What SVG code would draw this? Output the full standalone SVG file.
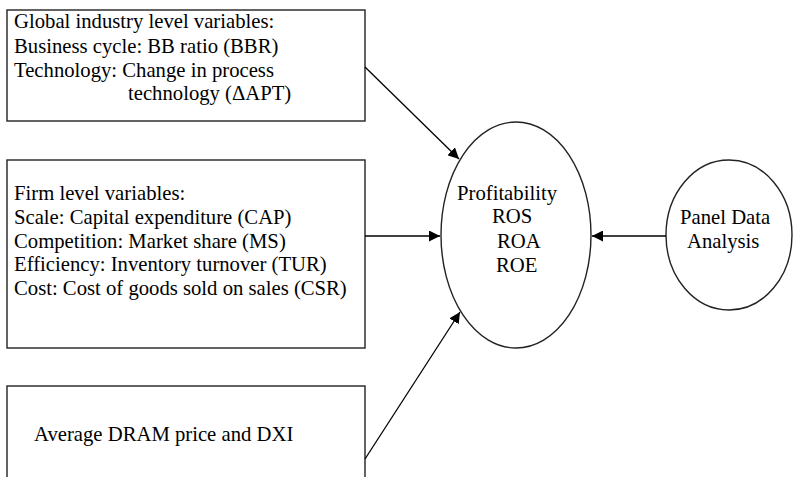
<svg xmlns="http://www.w3.org/2000/svg" width="793" height="477" viewBox="0 0 793 477">
<defs>
<style>
.box{fill:#fff;stroke:#222;stroke-width:1.4}
.t{font-family:"Liberation Serif","Times New Roman",serif;font-size:20.7px;fill:#000}
.c{stroke:#000;stroke-width:1.3;fill:none;marker-end:url(#ah)}
</style>
<marker id="ah" viewBox="0 0 10 10" refX="10" refY="5" markerWidth="11" markerHeight="11" markerUnits="userSpaceOnUse" orient="auto">
<path d="M0,0 L10,5 L0,10 z" fill="#000"/>
</marker>
</defs>
<rect width="793" height="477" fill="#fff"/>
<g id="global">
<rect class="box" x="7" y="10" width="358" height="111"/>
<text class="t" x="14" y="28">Global industry level variables:</text>
<text class="t" x="14" y="53">Business cycle: BB ratio (BBR)</text>
<text class="t" x="14" y="77">Technology: Change in process</text>
<text class="t" x="128" y="100">technology (ΔAPT)</text>
</g>
<g id="firm">
<rect class="box" x="7" y="160" width="358" height="188"/>
<text class="t" x="14" y="200">Firm level variables:</text>
<text class="t" x="14" y="224">Scale: Capital expenditure (CAP)</text>
<text class="t" x="14" y="248">Competition: Market share (MS)</text>
<text class="t" x="14" y="271">Efficiency: Inventory turnover (TUR)</text>
<text class="t" x="14" y="295">Cost: Cost of goods sold on sales (CSR)</text>
</g>
<g id="dram">
<rect class="box" x="7" y="386" width="358" height="100"/>
<text class="t" x="34" y="441">Average DRAM price and DXI</text>
</g>
<g id="profit">
<ellipse class="box" cx="516" cy="235" rx="75" ry="113"/>
<text class="t" x="457" y="200">Profitability</text>
<text class="t" x="492" y="223">ROS</text>
<text class="t" x="497" y="248">ROA</text>
<text class="t" x="496" y="272">ROE</text>
</g>
<g id="panel">
<ellipse class="box" cx="729" cy="235" rx="63" ry="75"/>
<text class="t" x="680" y="224">Panel Data</text>
<text class="t" x="687" y="248">Analysis</text>
</g>
<g id="connectors">
<line class="c" x1="365" y1="67" x2="459" y2="159"/>
<line class="c" x1="365" y1="236" x2="440" y2="236"/>
<line class="c" x1="365" y1="459" x2="460" y2="312"/>
<line class="c" x1="666" y1="236" x2="592" y2="236"/>
</g>
</svg>
